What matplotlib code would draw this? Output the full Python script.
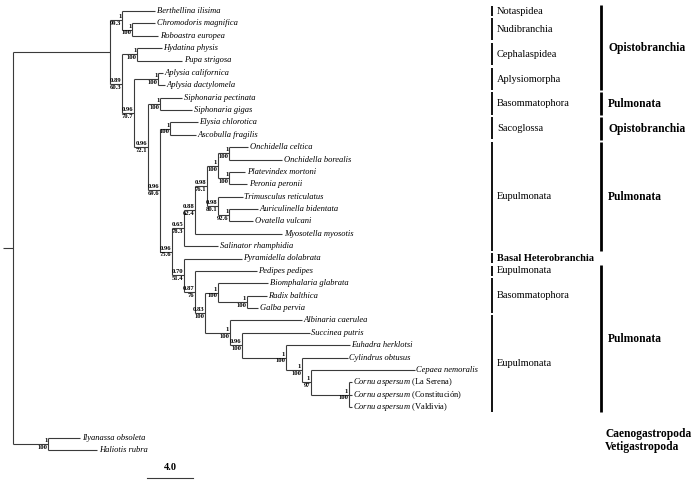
import matplotlib
matplotlib.use('Agg')
import matplotlib.pyplot as plt
import matplotlib.transforms as mtransforms

plt.rcParams['font.family'] = 'Liberation Serif'
plt.rcParams['mathtext.fontset'] = 'custom'
plt.rcParams['mathtext.rm'] = 'Liberation Serif'
plt.rcParams['mathtext.it'] = 'Liberation Serif:italic'
plt.rcParams['mathtext.bf'] = 'Liberation Serif:bold'

# tree: branch lengths in scale units, internal labels = posterior/bootstrap
tree_newick = (
    "("
    "((Berthellina_ilisima:2.87,(Chromodoris_magnifica:2.00,Roboastra_europea:2.26)1/100:0.87)1/99.3:1.04,"
    "((Hydatina_physis:2.17,Pupa_strigosa:3.91)1/100:1.30,"
    "((Aplysia_californica:0.43,Aplysia_dactylomela:0.61)1/100:2.09,"
    "((Siphonaria_pectinata:1.91,Siphonaria_gigas:2.78)1/100:1.04,"
    "((Elysia_chlorotica:2.43,Ascobulla_fragilis:2.26)1/100:0.87,"
    "((((((Onchidella_celtica:1.65,Onchidella_borealis:4.61)1/100:0.96,"
    "(Platevindex_mortoni:1.39,Peronia_peronii:1.57)1/100:0.96)1/100:0.96,"
    "(Trimusculus_reticulatus:2.17,(Auriculinella_bidentata:2.52,Ovatella_vulcani:2.09)1/92.6:0.96)0.98/80.1:0.96"
    ")0.98/76.1:1.04,Myosotella_myosotis:7.57)0.88/62.4:0.96,Salinator_rhamphidia:2.96)0.65/78.3:1.04,"
    "(Pyramidella_dolabrata:5.04,(Pedipes_pedipes:5.39,"
    "((Biomphalaria_glabrata:4.35,(Radix_balthica:1.74,Galba_pervia:0.96)1/100:2.52)1/100:1.13,"
    "(Albinaria_caerulea:6.26,(Succinea_putris:5.91,(Euhadra_herklotsi:5.57,"
    "(Cylindrus_obtusus:4.00,(Cepaea_nemoralis:9.04,"
    "(Cornu_aspersum|La_Serena:0.26,Cornu_aspersum|Constitución:0.26,Cornu_aspersum|Valdivia:0.26)1/100:3.30"
    ")1/97:0.78)1/100:1.39)1/100:3.83)0.96/100:1.04)1/100:2.17"
    ")0.83/100:0.87)0.87/76:0.96)0.70/51.4:1.04"
    ")0.96/75.6:1.04)0.96/69.6:1.04)0.96/72.1:1.22)0.96/70.7:1.04)0.89/60.3:1.04"
    "):8.43,"
    "(Ilyanassa_obsoleta:2.78,Haliotis_rubra:4.26)1/100:3.04"
    "):0.87;"
)

# groups on the right: (label, first tip, last tip, bold)
orders = [("Notaspidea", 0, 0, False), ("Nudibranchia", 1, 2, False),
          ("Cephalaspidea", 3, 4, False), ("Aplysiomorpha", 5, 6, False),
          ("Basommatophora", 7, 8, False), ("Sacoglossa", 9, 10, False),
          ("Eupulmonata", 11, 19, False), ("Basal Heterobranchia", 20, 20, True),
          ("Eupulmonata", 21, 21, False), ("Basommatophora", 22, 24, False),
          ("Eupulmonata", 25, 32, False)]
major = [("Opistobranchia", 0, 6), ("Pulmonata", 7, 8), ("Opistobranchia", 9, 10),
         ("Pulmonata", 11, 19), ("Pulmonata", 21, 32)]
outgroups = ["Caenogastropoda", "Vetigastropoda"]
scale_len = 4.0

outgroup_gap = 1.5
px_unit = 11.5
px_tip = 12.375


def parse_newick(s):
    pos = 0

    def node():
        nonlocal pos
        n = {'children': [], 'name': '', 'len': 0.0}
        if s[pos] == '(':
            pos += 1
            while True:
                n['children'].append(node())
                if s[pos] == ',':
                    pos += 1
                    continue
                pos += 1
                break
        start = pos
        while s[pos] not in ',():;':
            pos += 1
        n['name'] = s[start:pos]
        if s[pos] == ':':
            pos += 1
            start = pos
            while s[pos] not in ',();':
                pos += 1
            n['len'] = float(s[start:pos])
        return n
    return node()


def layout(n, x0, counter, is_root=False):
    n['x'] = x0 + n['len']
    if not n['children']:
        n['y'] = counter[0]
        counter[0] += 1
        return
    for i, c in enumerate(n['children']):
        if is_root and i == 1:
            counter[0] += outgroup_gap
        layout(c, n['x'], counter)
    n['y'] = (n['children'][0]['y'] + n['children'][-1]['y']) / 2


tree = parse_newick(tree_newick)
layout(tree, 0.0, [0.0], is_root=True)

fig = plt.figure(figsize=(6.95, 4.84), dpi=100)
ax = fig.add_axes([0, 0, 1, 1])
ax.axis('off')
ax.set_xlim(-3 / px_unit, (695 - 3) / px_unit)
ax.set_ylim((484 - 11) / px_tip, -11 / px_tip)

lc = '#3a3a3a'
lw = 0.8
tips = []


def draw(n, parent_x):
    ax.plot([parent_x, n['x']], [n['y'], n['y']], color=lc, lw=lw, solid_capstyle='butt')
    if n['children']:
        ax.plot([n['x'], n['x']], [n['children'][0]['y'], n['children'][-1]['y']],
                color=lc, lw=lw, solid_capstyle='butt')
        for c in n['children']:
            draw(c, n['x'])
        if '/' in n['name']:
            post, boot = n['name'].split('/')
            ax.text(n['x'] - 0.05, n['y'] - 0.07, post, ha='right', va='bottom',
                    fontsize=4.8, fontweight='bold')
            ax.text(n['x'] - 0.05, n['y'] + 0.07, boot, ha='right', va='top',
                    fontsize=4.8, fontweight='bold')
    else:
        tips.append(n)
        name = n['name']
        if '|' in name:
            sp, loc = name.split('|')
            label = r'$\mathit{' + sp.replace('_', r'\ ') + '}$ (' + loc.replace('_', ' ') + ')'
            ax.text(n['x'] + 0.15, n['y'], label, ha='left', va='center', fontsize=6.1)
        else:
            ax.text(n['x'] + 0.15, n['y'], name.replace('_', ' '), ha='left', va='center',
                    fontsize=6.1, style='italic')


draw(tree, 0.0)

tr = mtransforms.blended_transform_factory(ax.transAxes, ax.transData)
for label, a, b, bold in orders:
    y0, y1 = tips[a]['y'] - 0.42, tips[b]['y'] + 0.38
    ax.plot([0.708, 0.708], [y0, y1], color='black', lw=1.3, transform=tr, solid_capstyle='butt')
    ax.text(0.715, (tips[a]['y'] + tips[b]['y']) / 2, label, transform=tr, ha='left',
            va='center', fontsize=7.5, fontweight='bold' if bold else 'normal')

for label, a, b in major:
    y0, y1 = tips[a]['y'] - 0.45, tips[b]['y'] + 0.4
    ax.plot([0.865, 0.865], [y0, y1], color='black', lw=2.0, transform=tr, solid_capstyle='butt')
    ax.text(0.875, (tips[a]['y'] + tips[b]['y']) / 2, label, transform=tr, ha='left',
            va='center', fontsize=8.3, fontweight='bold')

for label, t in zip(outgroups, tips[-2:]):
    ax.text(0.871, t['y'] - 0.3, label, transform=tr, ha='left', va='center',
            fontsize=8.3, fontweight='bold')

# scale bar
sx = (147 - 3) / px_unit
sy = 37.7
ax.plot([sx, sx + scale_len], [sy, sy], color=lc, lw=lw)
ax.text(sx + scale_len / 2, sy - 0.45, f"{scale_len:.1f}", ha='center', va='bottom',
        fontsize=7.5, fontweight='bold')

fig.savefig('out.png', dpi=100)
